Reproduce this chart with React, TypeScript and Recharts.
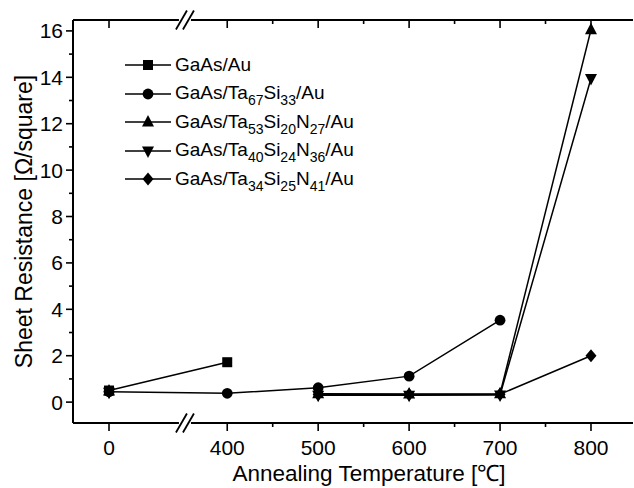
import React from "react";
import { LineChart, Line, XAxis, YAxis, ReferenceLine, Legend } from "recharts";

// annealing temperatures (°C) and the resistance readings for each stack
const temperatures = [0, 400, 500, 600, 700, 800];
const minorTemperatures = [450, 550, 650, 750];
const resistanceTicks = [0, 2, 4, 6, 8, 10, 12, 14, 16];
const resistanceMinorTicks = [1, 3, 5, 7, 9, 11, 13, 15];

const gaasAu = [0.5, 1.72, null, null, null, null];
const ta67si33 = [0.45, 0.38, 0.62, 1.12, 3.53, null];
const ta53si20n27 = [0.48, null, 0.36, 0.35, 0.36, 16.05];
const ta40si24n36 = [0.42, null, 0.3, 0.3, 0.31, 13.95];
const ta34si25n41 = [0.45, null, 0.33, 0.33, 0.34, 2.0];

const series = [
  { key: "gaasAu", label: "GaAs/Au", values: gaasAu, marker: "square" },
  { key: "ta67", label: "GaAs/Ta_{67}Si_{33}/Au", values: ta67si33, marker: "circle" },
  { key: "ta53", label: "GaAs/Ta_{53}Si_{20}N_{27}/Au", values: ta53si20n27, marker: "up" },
  { key: "ta40", label: "GaAs/Ta_{40}Si_{24}N_{36}/Au", values: ta40si24n36, marker: "down" },
  { key: "ta34", label: "GaAs/Ta_{34}Si_{25}N_{41}/Au", values: ta34si25n41, marker: "diamond" },
];

const FONT = "'Liberation Sans', Arial, Helvetica, sans-serif";

// broken x axis: the 0..400 span is squeezed into BREAK_GAP axis units
const BREAK_GAP = 130;
const toAxis = (t: number) => (t < 400 ? (t * BREAK_GAP) / 400 : t - 400 + BREAK_GAP);
const axisToTemp = new Map<number, number>();
[...temperatures, ...minorTemperatures].forEach((t) => axisToTemp.set(toAxis(t), t));

const X_MIN = -39.6;
const X_MAX = 576.2;
const Y_MIN = -0.9;
const Y_MAX = 16.47;
const BREAK_POS = 83.5;

const W = 634;
const H = 488;
const LEFT = 73;
const TOP = 20;
const RIGHT = 633;
const BOTTOM = 423;

const ux = (X_MAX - X_MIN) / (RIGHT - LEFT);
const uy = (Y_MAX - Y_MIN) / (BOTTOM - TOP);

const data = temperatures.map((t, i) => {
  const row: any = { pos: toAxis(t), temp: t };
  series.forEach((s) => (row[s.key] = s.values[i]));
  return row;
});

const frame = [Y_MIN, Y_MAX].flatMap((yv) => [
  [{ x: X_MIN, y: yv }, { x: BREAK_POS - 6 * ux, y: yv }],
  [{ x: BREAK_POS + 6 * ux, y: yv }, { x: X_MAX, y: yv }],
]);
const slashes = [Y_MIN, Y_MAX].flatMap((yv) =>
  [-3.5, 3.5].map((off) => [
    { x: BREAK_POS + (off - 5.5) * ux, y: yv - 9.5 * uy },
    { x: BREAK_POS + (off + 5.5) * ux, y: yv + 9.5 * uy },
  ])
);

function Marker({ shape, cx, cy }: { shape: string; cx: number; cy: number }) {
  switch (shape) {
    case "square":
      return <rect x={cx - 5} y={cy - 5} width={10} height={10} fill="#000" />;
    case "circle":
      return <circle cx={cx} cy={cy} r={5.4} fill="#000" />;
    case "up":
      return <path d={`M${cx},${cy - 7}L${cx + 6},${cy + 4.5}L${cx - 6},${cy + 4.5}Z`} fill="#000" />;
    case "down":
      return <path d={`M${cx},${cy + 7}L${cx + 6},${cy - 4.5}L${cx - 6},${cy - 4.5}Z`} fill="#000" />;
    default:
      return <path d={`M${cx},${cy - 6.5}L${cx + 5.5},${cy}L${cx},${cy + 6.5}L${cx - 5.5},${cy}Z`} fill="#000" />;
  }
}

const renderLabel = (label: string) =>
  label.split(/(_\{[^}]*\})/).map((part, i) =>
    part.startsWith("_{") ? (
      <span key={i} style={{ fontSize: 14, position: "relative", top: 6 }}>
        {part.slice(2, -1)}
      </span>
    ) : (
      <span key={i}>{part}</span>
    )
  );

const LegendContent = () => (
  <div style={{ fontFamily: FONT, fontSize: 19, color: "#000" }}>
    {series.map((s) => (
      <div key={s.key} style={{ display: "flex", alignItems: "center", height: 28.5 }}>
        <svg width={46} height={16} style={{ overflow: "visible" }}>
          <line x1={0} y1={8} x2={46} y2={8} stroke="#000" strokeWidth={1.3} />
          <Marker shape={s.marker} cx={23} cy={8} />
        </svg>
        <span style={{ marginLeft: 4, whiteSpace: "nowrap", lineHeight: "20px" }}>{renderLabel(s.label)}</span>
      </div>
    ))}
  </div>
);

const BottomTick = (props: any) => {
  const { x, y, payload } = props;
  const t = axisToTemp.get(payload.value) as number;
  const major = temperatures.includes(t);
  return (
    <g>
      <line x1={x} y1={y} x2={x} y2={y + (major ? 8 : 4)} stroke="#000" strokeWidth={1.6} />
      {major && (
        <text x={x} y={y + 32} textAnchor="middle" fontSize={21} fontFamily={FONT} fill="#000">
          {t}
        </text>
      )}
    </g>
  );
};

const TopTick = (props: any) => {
  const { x, y, payload } = props;
  const major = temperatures.includes(axisToTemp.get(payload.value) as number);
  return <line x1={x} y1={y} x2={x} y2={y + (major ? 8 : 4)} stroke="#000" strokeWidth={1.6} />;
};

const LeftTick = (props: any) => {
  const { x, y, payload } = props;
  const major = resistanceTicks.includes(payload.value);
  return (
    <g>
      <line x1={x - (major ? 7 : 4)} y1={y} x2={x} y2={y} stroke="#000" strokeWidth={1.6} />
      {major && (
        <text x={x - 10} y={y + 7.5} textAnchor="end" fontSize={21} fontFamily={FONT} fill="#000">
          {payload.value}
        </text>
      )}
    </g>
  );
};

const RightTick = (props: any) => {
  const { x, y, payload } = props;
  const major = resistanceTicks.includes(payload.value);
  return <line x1={x - (major ? 7 : 3)} y1={y} x2={x} y2={y} stroke="#000" strokeWidth={1.6} />;
};

const xTicks = [...temperatures, ...minorTemperatures].map(toAxis).sort((a, b) => a - b);
const yTicks = [...resistanceTicks, ...resistanceMinorTicks].sort((a, b) => a - b);

export default function App() {
  return (
    <div style={{ position: "absolute", left: 0, top: 0, width: W, height: H, background: "#fff" }}>
      <LineChart width={W} height={H} data={data} margin={{ top: 0, right: 0, bottom: 0, left: 0 }}>
        <XAxis
          xAxisId="b"
          dataKey="pos"
          type="number"
          domain={[X_MIN, X_MAX]}
          ticks={xTicks}
          interval={0}
          height={H - BOTTOM}
          axisLine={false}
          tickLine={false}
          tickSize={0}
          tickMargin={0}
          tick={BottomTick}
          label={{
            value: "Annealing Temperature [℃]",
            position: "insideBottom",
            offset: 7,
            dx: 16,
            style: { fontSize: 22.5, fontFamily: FONT, fill: "#000" },
          }}
        />
        <XAxis
          xAxisId="t"
          orientation="top"
          dataKey="pos"
          type="number"
          domain={[X_MIN, X_MAX]}
          ticks={xTicks}
          interval={0}
          height={TOP}
          axisLine={false}
          tickLine={false}
          tickSize={0}
          tickMargin={0}
          tick={TopTick}
        />
        <YAxis
          yAxisId="l"
          type="number"
          domain={[Y_MIN, Y_MAX]}
          ticks={yTicks}
          interval={0}
          width={LEFT}
          axisLine={{ stroke: "#000", strokeWidth: 2 }}
          tickLine={false}
          tickSize={0}
          tickMargin={0}
          tick={LeftTick}
          label={{
            value: "Sheet Resistance [Ω/square]",
            angle: -90,
            position: "center",
            dx: -13,
            style: { fontSize: 23, fontFamily: FONT, fill: "#000", textAnchor: "middle" },
          }}
        />
        <YAxis
          yAxisId="r"
          orientation="right"
          type="number"
          domain={[Y_MIN, Y_MAX]}
          ticks={yTicks}
          interval={0}
          width={W - RIGHT}
          axisLine={false}
          tickLine={false}
          tickSize={0}
          tickMargin={0}
          tick={RightTick}
        />
        {frame.map((seg, i) => (
          <ReferenceLine key={`f${i}`} xAxisId="b" yAxisId="l" segment={seg} stroke="#000" strokeWidth={2} ifOverflow="visible" />
        ))}
        {slashes.map((seg, i) => (
          <ReferenceLine key={`s${i}`} xAxisId="b" yAxisId="l" segment={seg} stroke="#000" strokeWidth={1.8} ifOverflow="visible" />
        ))}
        {series.map((s) => (
          <Line
            key={s.key}
            xAxisId="b"
            yAxisId="l"
            dataKey={s.key}
            stroke="#000"
            strokeWidth={1.5}
            isAnimationActive={false}
            dot={(p: any) =>
              p.cx == null || p.cy == null || p.value == null ? (
                <g key={`${s.key}-${p.index}`} />
              ) : (
                <Marker key={`${s.key}-${p.index}`} shape={s.marker} cx={p.cx} cy={p.cy} />
              )
            }
            activeDot={false}
          />
        ))}
        <Legend
          layout="vertical"
          align="center"
          verticalAlign="middle"
          content={LegendContent}
          wrapperStyle={{ top: 51, left: 125, width: "auto" }}
        />
      </LineChart>
    </div>
  );
}
